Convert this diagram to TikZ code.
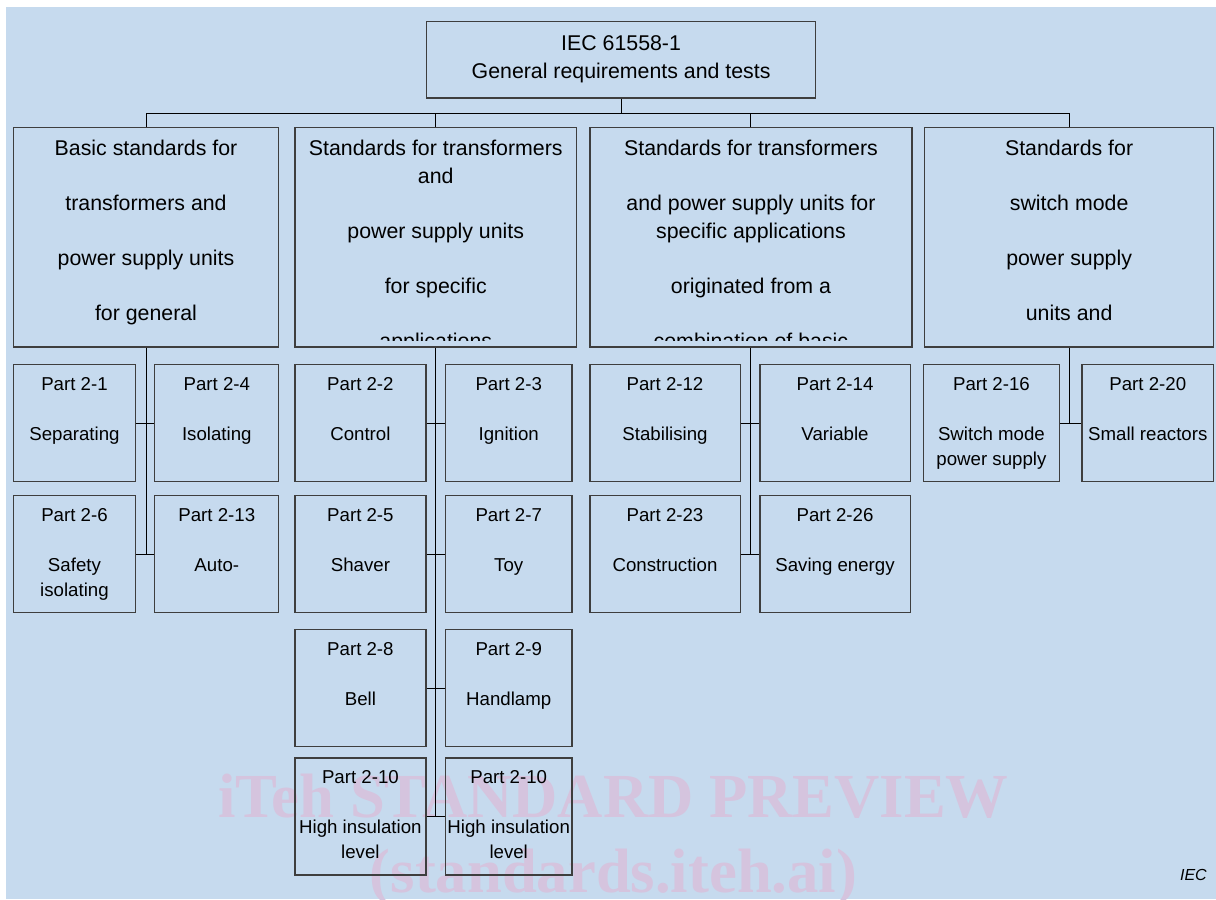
\documentclass[tikz,border=0pt]{standalone}
\usepackage{fontspec}
\setmainfont{Liberation Sans}
\newfontfamily\markfont{Liberation Serif}
\usetikzlibrary{positioning}

\definecolor{bgblue}{RGB}{198,218,238}
\definecolor{markpink}{RGB}{213,196,222}
\definecolor{framegray}{RGB}{62,62,62}
\newlength\pix
\setlength\pix{0.75pt}

\begin{document}
\begin{tikzpicture}[x=\pix,y=-\pix]
    \tikzstyle{every node}+=[inner sep=0pt]
    \tikzstyle{box}=[draw=framegray, line width=1.2\pix, anchor=north west]
    \tikzstyle{group}=[box, minimum height=219.8\pix]
    \tikzstyle{partbox}=[box, minimum height=117\pix]
    \tikzstyle{grouptext}=[align=center, font=\fontsize{16}{20.6}\selectfont]
    \tikzstyle{parttext}=[align=center, font=\fontsize{14}{18.8}\selectfont]
    \tikzstyle{wire}=[black, line width=1\pix]
    \tikzstyle{watermark}=[markpink, anchor=base, font=\markfont\bfseries\fontsize{47}{47}\selectfont]
    \useasboundingbox (0,0) rectangle (1216,899);
    \fill [bgblue] (6,7) rectangle (1216,899);
    % watermark
    \node [watermark] (mark1) at (613.5,817) {iTeh STANDARD PREVIEW};
    \node [watermark] (mark2) at (613.5,892) {(standards.iteh.ai)};
    % top
    \node [box, minimum width=389\pix, minimum height=76.6\pix] (top) at (426,20.7) {};
    \node [grouptext, font=\fontsize{16}{20.8}\selectfont, below=15\pix of top.north] (toptext) {IEC 61558-1\\General requirements and tests};
    % groups
    \node [group, minimum width=265.6\pix] (b1) at (12.6,126.5) {};
    \node [group, minimum width=281.7\pix] (b2) at (294.3,126.5) {};
    \node [group, minimum width=322.1\pix] (b3) at (589.3,126.5) {};
    \node [group, minimum width=289\pix] (b4) at (924,126.5) {};
    \node [grouptext, below=13.7\pix of b1.north] (t1) {Basic standards for\\[20.6pt]transformers and\\[20.6pt]power supply units\\[20.6pt]for general};
    \begin{scope}
        \clip (b2.north west) rectangle ([yshift=7\pix]b2.south east);
        \node [grouptext, below=13.7\pix of b2.north] (t2) {Standards for transformers\\and\\[20.6pt]power supply units\\[20.6pt]for specific\\[20.6pt]applications};
    \end{scope}
    \begin{scope}
        \clip (b3.north west) rectangle ([yshift=7\pix]b3.south east);
        \node [grouptext, below=13.7\pix of b3.north] (t3) {Standards for transformers\\[20.6pt]and power supply units for\\specific applications\\[20.6pt]originated from a\\[20.6pt]combination of basic};
    \end{scope}
    \node [grouptext, below=13.7\pix of b4.north] (t4) {Standards for\\[20.6pt]switch mode\\[20.6pt]power supply\\[20.6pt]units and};
    \draw [wire] (top.south) -- ++(0,15.4) coordinate (bus);
    \foreach \g in {b1,b2,b3,b4}
        \draw [wire] (\g.north) |- (bus);
    % parts, first group
    \node [partbox, minimum width=122.5\pix] (p21) at (12.6,364) {};
    \node [partbox, minimum width=124\pix] (p24) at (154.2,364) {};
    \node [partbox, minimum width=122.5\pix] (p26) at (12.6,495) {};
    \node [partbox, minimum width=124\pix] (p213) at (154.2,495) {};
    \node [parttext, below=12.7\pix of p21.north] (t21) {Part 2-1\\[18.8pt]Separating};
    \node [parttext, below=12.7\pix of p24.north] (t24) {Part 2-4\\[18.8pt]Isolating};
    \node [parttext, below=12.7\pix of p26.north] (t26) {Part 2-6\\[18.8pt]Safety\\isolating};
    \node [parttext, below=12.7\pix of p213.north] (t213) {Part 2-13\\[18.8pt]Auto-};
    % parts, second group
    \node [partbox, minimum width=131\pix] (p22) at (294.3,364) {};
    \node [partbox, minimum width=126.6\pix] (p23) at (444.8,364) {};
    \node [partbox, minimum width=131\pix] (p25) at (294.3,495) {};
    \node [partbox, minimum width=126.6\pix] (p27) at (444.8,495) {};
    \node [partbox, minimum width=131\pix] (p28) at (294.3,629) {};
    \node [partbox, minimum width=126.6\pix] (p29) at (444.8,629) {};
    \node [partbox, minimum width=131\pix] (p210a) at (294.3,757.3) {};
    \node [partbox, minimum width=126.6\pix] (p210b) at (444.8,757.3) {};
    \node [parttext, below=12.7\pix of p22.north] (t22) {Part 2-2\\[18.8pt]Control};
    \node [parttext, below=12.7\pix of p23.north] (t23) {Part 2-3\\[18.8pt]Ignition};
    \node [parttext, below=12.7\pix of p25.north] (t25) {Part 2-5\\[18.8pt]Shaver};
    \node [parttext, below=12.7\pix of p27.north] (t27) {Part 2-7\\[18.8pt]Toy};
    \node [parttext, below=12.7\pix of p28.north] (t28) {Part 2-8\\[18.8pt]Bell};
    \node [parttext, below=12.7\pix of p29.north] (t29) {Part 2-9\\[18.8pt]Handlamp};
    \node [parttext, below=12.7\pix of p210a.north] (t210a) {Part 2-10\\[18.8pt]High insulation\\level};
    \node [parttext, below=12.7\pix of p210b.north] (t210b) {Part 2-10\\[18.8pt]High insulation\\level};
    % parts, third group
    \node [partbox, minimum width=150.2\pix] (p212) at (589.3,364) {};
    \node [partbox, minimum width=150.2\pix] (p214) at (759.3,364) {};
    \node [partbox, minimum width=150.2\pix] (p223) at (589.3,495) {};
    \node [partbox, minimum width=150.2\pix] (p226) at (759.3,495) {};
    \node [parttext, below=12.7\pix of p212.north] (t212) {Part 2-12\\[18.8pt]Stabilising};
    \node [parttext, below=12.7\pix of p214.north] (t214) {Part 2-14\\[18.8pt]Variable};
    \node [parttext, below=12.7\pix of p223.north] (t223) {Part 2-23\\[18.8pt]Construction};
    \node [parttext, below=12.7\pix of p226.north] (t226) {Part 2-26\\[18.8pt]Saving energy};
    % parts, fourth group
    \node [partbox, minimum width=136.3\pix] (p216) at (922.7,364) {};
    \node [partbox, minimum width=131.7\pix] (p220) at (1081.3,364) {};
    \node [parttext, below=12.7\pix of p216.north] (t216) {Part 2-16\\[18.8pt]Switch mode\\power supply};
    \node [parttext, below=12.7\pix of p220.north] (t220) {Part 2-20\\[18.8pt]Small reactors};
    % spines
    \draw [wire] (b1.south) -- (b1.south |- p26.east);
    \draw [wire] (b2.south) -- (b2.south |- p210a.east);
    \draw [wire] (b3.south) -- (b3.south |- p223.east);
    \draw [wire] (b4.south) -- (b4.south |- p216.east);
    \draw [wire] (p21.east) -- (p24.west);
    \draw [wire] (p26.east) -- (p213.west);
    \draw [wire] (p22.east) -- (p23.west);
    \draw [wire] (p25.east) -- (p27.west);
    \draw [wire] (p28.east) -- (p29.west);
    \draw [wire] (p210a.east) -- (p210b.west);
    \draw [wire] (p212.east) -- (p214.west);
    \draw [wire] (p223.east) -- (p226.west);
    \draw [wire] (p216.east) -- (p220.west);
    \node [anchor=base east, font=\itshape\fontsize{12}{14}\selectfont] (iec) at (1207,880.5) {IEC};
\end{tikzpicture}
\end{document}
